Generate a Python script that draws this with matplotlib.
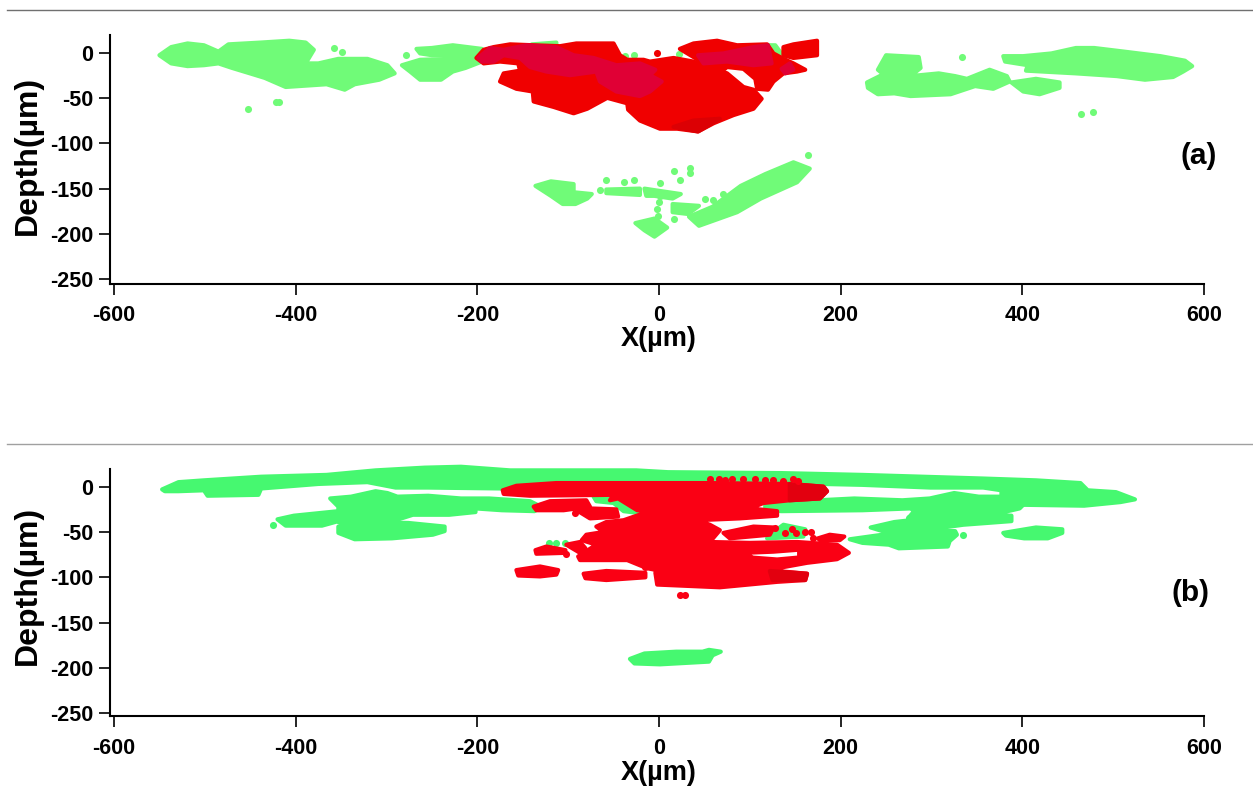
from matplotlib import pyplot as plt
from matplotlib.lines import Line2D

plt.rcParams["font.family"] = ["Liberation Sans", "DejaVu Sans"]
plt.rcParams["font.weight"] = "bold"
plt.rcParams["axes.unicode_minus"] = False

X_TICKS = [-600, -400, -200, 0, 200, 400, 600]
Y_TICKS = [0, -50, -100, -150, -200, -250]

GREEN_A = "#70FB78"
RED_A = "#F00000"
CRIMSON_A = "#E00035"
DARK_RED_A = "#DC0004"
GREEN_B = "#46F870"
RED_B = "#FA0014"
DARK_RED_B = "#E2000F"

# panel (a) outlines as (x, depth)
a_green_left = [(-550, -3), (-537, 6), (-519, 10), (-501, 8), (-485, 1), (-474, 9), (-438, 11), (-407, 13),
                (-389, 11), (-380, 3), (-389, -12), (-375, -12), (-353, -7), (-321, -7), (-299, -14), (-291, -23),
                (-308, -30), (-335, -35), (-346, -41), (-366, -35), (-411, -38), (-434, -28), (-447, -24),
                (-470, -17), (-485, -12), (-501, -14), (-519, -15), (-537, -12)]
a_green_streak1 = [(-267, 4), (-250, 5), (-227, 8), (-195, 4), (-195, -4), (-227, -3), (-250, -3), (-263, -1)]
a_green_streak2 = [(-283, -14), (-263, -8), (-195, -6), (-195, -10), (-213, -17), (-227, -21), (-240, -30),
                   (-263, -30), (-274, -21)]
a_green_top = [(-140, 9), (-113, 11), (-113, 7), (-140, 7)]
a_green_notch = [(120, 8), (128, 8), (139, -7), (128, -7)]
a_green_r1 = [(379, -4), (401, -4), (432, -1), (459, 5), (479, 5), (512, 1), (552, -4), (579, -9), (587, -15),
              (577, -21), (566, -27), (535, -30), (504, -26), (459, -23), (404, -20), (406, -14), (381, -10)]
a_green_r2 = [(229, -33), (247, -24), (241, -19), (250, -3), (286, -5), (288, -17), (277, -26), (308, -23),
              (326, -26), (339, -29), (364, -19), (383, -26), (386, -32), (368, -40), (348, -37), (321, -46),
              (277, -48), (259, -45), (241, -46), (230, -39)]
a_green_r3 = [(388, -33), (415, -29), (441, -33), (441, -39), (419, -46), (401, -43)]
a_green_low1 = [(-136, -147), (-119, -142), (-94, -145), (-94, -154), (-74, -156), (-79, -161), (-92, -167),
                (-106, -167), (-119, -158)]
a_green_low2 = [(-58, -151), (-21, -150), (-21, -157), (-58, -155)]
a_green_low3 = [(-16, -150), (-3, -152), (24, -156), (15, -161), (-5, -158), (-14, -158)]
a_green_arc = [(33, -181), (59, -170), (90, -147), (117, -134), (148, -121), (166, -128), (152, -143),
               (112, -161), (86, -176), (44, -191)]
a_green_low4 = [(-26, -188), (-5, -183), (9, -193), (-5, -203), (-16, -196)]
a_green_low5 = [(15, -167), (44, -169), (32, -178), (15, -176)]
a_green_dots_x = [-358, -349, -279, -453, -422, -418, -58, -38, -28, -65, 1, 17, 34, 34, 23, 164, 0, -2, -1, 17,
                  51, 60, 71, 1, 22, -37, -28, 334, 465, 478]
a_green_dots_y = [5, 1, -3, -62, -54, -54, -141, -143, -141, -152, -144, -131, -127, -133, -141, -113, -165, -172,
                  -180, -184, -161, -163, -156, -158, -2, -4, -3, -5, -68, -66]

a_red_main = [(-201, -6), (-193, 3), (-182, 6), (-164, 9), (-138, 8), (-109, 7), (-91, 10), (-50, 10), (-43, -3),
              (-35, -8), (-17, -8), (-10, -10), (16, -6), (38, -10), (60, -17), (75, -23), (93, -38), (104, -41),
              (113, -51), (104, -62), (82, -69), (60, -78), (43, -87), (20, -84), (1, -84), (-21, -75), (-34, -63),
              (-35, -56), (-57, -50), (-79, -62), (-94, -67), (-116, -60), (-138, -54), (-139, -43), (-157, -40),
              (-175, -32), (-171, -23), (-153, -20), (-155, -12), (-175, -10), (-193, -12)]
a_red_right = [(23, 4), (38, 10), (64, 13), (86, 8), (119, 9), (126, -1), (137, -7), (148, -12), (161, -19),
               (152, -21), (137, -23), (126, -32), (120, -41), (108, -40), (106, -29), (93, -18), (75, -16),
               (71, -19), (53, -19), (43, -8)]
a_red_block = [(137, 6), (148, 9), (174, 13), (174, -3), (148, -6), (137, -3)]
a_crimson_main = [(-199, -6), (-186, 5), (-171, 3), (-146, 8), (-113, 6), (-94, -3), (-72, -6), (-47, -14),
                  (-21, -12), (-4, -19), (-10, -25), (3, -32), (-10, -43), (-21, -48), (-47, -43), (-65, -32),
                  (-69, -21), (-98, -25), (-124, -21), (-142, -16), (-153, -6), (-171, -3), (-182, -10), (-195, -10)]
a_crimson_right = [(43, -3), (71, -1), (104, 6), (120, 8), (124, -12), (104, -14), (75, -10), (49, -12)]
a_crimson_small = [(135, -18), (144, -12), (148, -19), (139, -23)]
a_dark_red = [(16, -82), (43, -87), (67, -73), (38, -75)]
a_red_dots_x = [-2]
a_red_dots_y = [-1]

# panel (b) outlines
b_green_top = [(-547, -3), (-529, 5), (-501, 7), (-438, 11), (-366, 13), (-312, 18), (-258, 21), (-218, 22),
               (-164, 18), (-25, 18), (10, 16), (135, 15), (224, 13), (357, 9), (415, 7), (464, 4), (472, -4),
               (503, -6), (524, -14), (508, -17), (468, -21), (401, -20), (377, -11), (377, -4), (357, -1),
               (299, -1), (224, 2), (135, 4), (-21, 2), (-173, -2), (-254, -1), (-290, -1), (-321, 5), (-375, 3),
               (-438, -2), (-441, -9), (-497, -10), (-501, -4), (-529, -5), (-544, -5)]
b_green_r2 = [(117, -18), (215, -13), (268, -15), (298, -13), (325, -7), (352, -11), (377, -11), (401, -13),
              (401, -20), (397, -24), (384, -27), (361, -31), (388, -32), (388, -38), (335, -42), (299, -47),
              (246, -49), (233, -45), (259, -39), (277, -37), (275, -34), (281, -27), (277, -24), (224, -26),
              (135, -27), (117, -26)]
b_green_r3 = [(210, -58), (246, -53), (263, -49), (326, -49), (328, -53), (320, -60), (318, -66), (264, -68),
              (253, -64), (224, -62)]
b_green_r4 = [(379, -51), (415, -45), (444, -47), (444, -51), (428, -57), (402, -57), (382, -54)]
b_green_low = [(-32, -190), (-16, -184), (19, -182), (48, -182), (55, -180), (68, -182), (59, -186), (55, -193),
               (1, -196), (-27, -195)]
b_green_l1 = [(-362, -13), (-339, -11), (-312, -5), (-299, -7), (-288, -11), (-254, -10), (-218, -13), (-187, -13),
              (-142, -16), (-130, -22), (-137, -27), (-173, -26), (-202, -24), (-202, -28), (-231, -31), (-271, -31),
              (-293, -38), (-353, -39), (-353, -22)]
b_green_l2 = [(-420, -36), (-402, -32), (-353, -27), (-353, -38), (-371, -43), (-411, -43)]
b_green_l3 = [(-353, -44), (-339, -39), (-276, -40), (-236, -44), (-236, -49), (-249, -53), (-294, -57), (-335, -58),
              (-353, -51)]
b_green_patch1 = [(-72, -11), (-54, -7), (-45, -13), (-23, -29), (-39, -27), (-50, -18), (-69, -16)]
b_green_patch2 = [(126, -50), (137, -42), (161, -47), (159, -55), (119, -57)]
b_green_dots_x = [335, 275, -425, -121, -113, -104]
b_green_dots_y = [-53, -35, -42, -62, -62, -62]

b_red_main = [(-172, -4), (-157, 1), (-113, 4), (-39, 4), (53, 4), (144, 3), (181, 0), (185, -5), (177, -13),
              (144, -15), (115, -18), (100, -24), (130, -27), (130, -32), (89, -35), (42, -37), (56, -42), (67, -48),
              (56, -61), (100, -62), (152, -61), (196, -64), (209, -73), (196, -80), (163, -84), (141, -88),
              (119, -92), (163, -96), (161, -103), (130, -105), (67, -111), (-2, -108), (-4, -95), (8, -94),
              (-13, -90), (-35, -81), (-87, -81), (-89, -77), (-69, -64), (-85, -59), (-80, -53), (-61, -50),
              (-69, -44), (-58, -39), (-39, -37), (-10, -27), (-24, -26), (-45, -13), (-54, -15), (-50, -9),
              (-142, -10), (-171, -8)]
b_red_lobe1 = [(-138, -22), (-120, -16), (-80, -15), (-76, -22), (-105, -26), (-135, -26)]
b_red_lobe2 = [(-89, -27), (-76, -24), (-47, -25), (-45, -33), (-76, -35)]
b_red_i1 = [(-136, -70), (-124, -66), (-103, -70), (-103, -73), (-135, -74)]
b_red_i2 = [(-102, -64), (-87, -61), (-81, -68), (-87, -73)]
b_red_i3 = [(-157, -92), (-131, -88), (-111, -92), (-113, -97), (-131, -99), (-155, -98)]
b_red_i4 = [(-83, -96), (-58, -93), (-15, -95), (-15, -100), (-58, -103), (-81, -101)]
b_red_i5 = [(71, -51), (104, -44), (126, -45), (122, -53), (78, -57)]
b_red_i6 = [(175, -57), (188, -53), (204, -55), (199, -59), (177, -59)]
b_dark_tip = [(144, 3), (181, 0), (185, -5), (177, -13), (144, -15)]
b_dark_low = [(122, -93), (163, -96), (161, -103), (125, -103)]
b_white_slit = [(102, -75), (126, -74), (152, -72), (152, -76), (130, -78), (104, -76)]
b_red_dots_x = [56, 66, 73, 80, 92, 106, 117, 125, 137, 148, 153, 128, 146, 139, 151, 161, 167, 169, 23, 29, -15, -92,
                -102]
b_red_dots_y = [9, 9, 7, 8, 8, 9, 7, 7, 6, 9, 6, -46, -47, -51, -51, -50, -50, -57, -120, -120, -89, -29, -74]


def fill_blob(ax, outline, color):
    xs = [p[0] for p in outline]
    ys = [p[1] for p in outline]
    ax.fill(xs, ys, facecolor=color, edgecolor=color, linewidth=3, joinstyle="round", clip_on=False)


def setup_axes(ax, xlabel_y, ylabel_y):
    ax.set_xlim(-604.4, 600)
    ax.spines["top"].set_visible(False)
    ax.spines["right"].set_visible(False)
    ax.spines["left"].set_linewidth(1.5)
    ax.spines["bottom"].set_linewidth(1.5)
    ax.set_xticks(X_TICKS)
    ax.set_yticks(Y_TICKS)
    ax.tick_params(axis="x", length=8, width=1.2, labelsize=15.5, pad=7.5)
    ax.tick_params(axis="y", length=8, width=1.2, labelsize=15.5, pad=4)
    ax.set_xlabel("X(µm)", fontsize=19.5, fontweight="bold", va="center")
    ax.set_ylabel("Depth(µm)", fontsize=23, fontweight="bold", va="center")
    ax.xaxis.set_label_coords(0.502, xlabel_y)
    ax.yaxis.set_label_coords(-0.0755, ylabel_y)


W, H = 1253, 791
fig = plt.figure(figsize=(W / 100, H / 100), dpi=100)
ax_a = fig.add_axes([110 / W, 1 - 283.5 / H, 1094 / W, 248.5 / H])
ax_b = fig.add_axes([110 / W, 1 - 716.3 / H, 1094 / W, 247.3 / H])

for blob in [a_green_left, a_green_streak1, a_green_streak2, a_green_top, a_green_notch, a_green_r1, a_green_r2,
             a_green_r3, a_green_low1, a_green_low2, a_green_low3, a_green_arc, a_green_low4, a_green_low5]:
    fill_blob(ax_a, blob, GREEN_A)
ax_a.scatter(a_green_dots_x, a_green_dots_y, s=26, color=GREEN_A, linewidths=0)
for blob in [a_red_main, a_red_right, a_red_block]:
    fill_blob(ax_a, blob, RED_A)
ax_a.scatter(a_red_dots_x, a_red_dots_y, s=26, color=RED_A, linewidths=0)
for blob in [a_crimson_main, a_crimson_right, a_crimson_small]:
    fill_blob(ax_a, blob, CRIMSON_A)
fill_blob(ax_a, a_dark_red, DARK_RED_A)

for blob in [b_green_top, b_green_r2, b_green_r3, b_green_r4, b_green_low, b_green_l1, b_green_l2, b_green_l3,
             b_green_patch1, b_green_patch2]:
    fill_blob(ax_b, blob, GREEN_B)
ax_b.scatter(b_green_dots_x, b_green_dots_y, s=26, color=GREEN_B, linewidths=0)
for blob in [b_red_main, b_red_lobe1, b_red_lobe2, b_red_i1, b_red_i2, b_red_i3, b_red_i4, b_red_i5, b_red_i6]:
    fill_blob(ax_b, blob, RED_B)
fill_blob(ax_b, b_dark_tip, DARK_RED_B)
fill_blob(ax_b, b_dark_low, DARK_RED_B)
ax_b.fill([p[0] for p in b_white_slit], [p[1] for p in b_white_slit], color="white", linewidth=0)
ax_b.scatter(b_red_dots_x, b_red_dots_y, s=26, color=RED_B, linewidths=0)

ax_a.set_ylim(-254.6, 19.3)
ax_b.set_ylim(-253.3, 19.5)
setup_axes(ax_a, -0.223, 0.515)
setup_axes(ax_b, -0.228, 0.528)

ax_a.text(594, -114, "(a)", fontsize=21.5, ha="center", va="center")
ax_b.text(585, -117, "(b)", fontsize=21.5, ha="center", va="center")

for y_px, shade in [(9.5, "#707070"), (443.5, "#a0a0a0")]:
    fig.add_artist(Line2D([7 / W, 1], [1 - y_px / H, 1 - y_px / H], color=shade, linewidth=1))

fig.savefig("out.png", dpi=100)
